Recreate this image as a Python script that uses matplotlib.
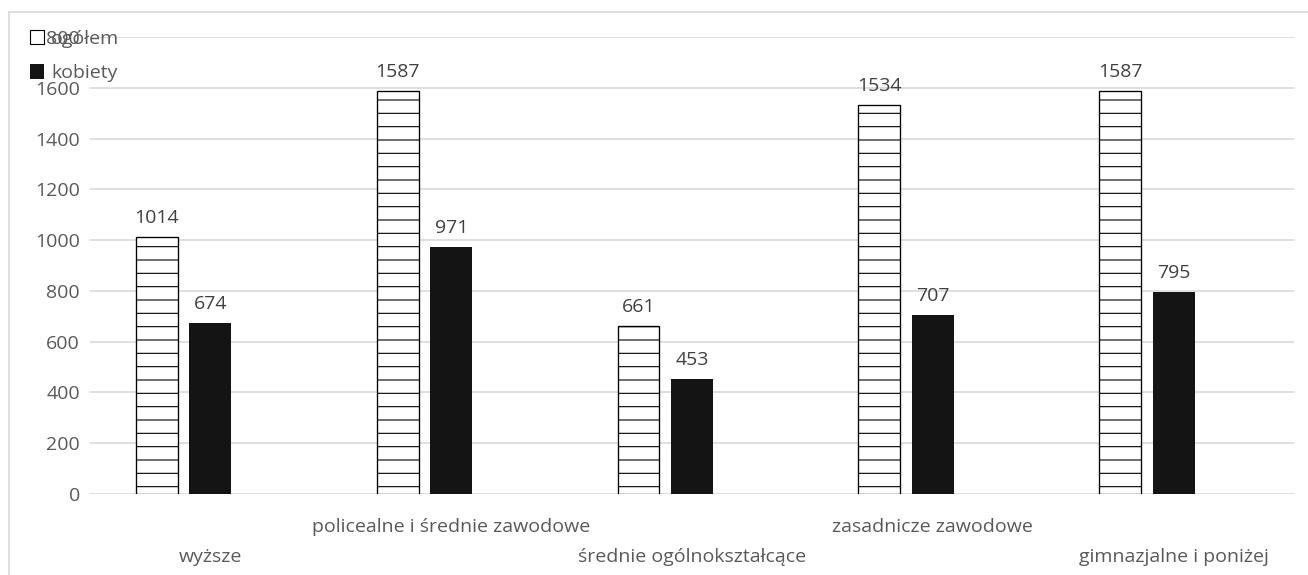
import numpy as np
import matplotlib.pyplot as plt
from matplotlib.patches import Rectangle, Patch

plt.rcParams['font.family'] = ['Open Sans', 'DejaVu Sans']
plt.rcParams['hatch.linewidth'] = 1.0

# dane
kategorie = ['wyższe', 'policealne i średnie zawodowe', 'średnie ogólnokształcące',
             'zasadnicze zawodowe', 'gimnazjalne i poniżej']
ogolem = [1014, 1587, 661, 1534, 1587]
kobiety = [674, 971, 453, 707, 795]
y_ticks = [0, 200, 400, 600, 800, 1000, 1200, 1400, 1600, 1800]

W, H, DPI = 1308, 575, 80
fs = 17.5
fig = plt.figure(figsize=(W / DPI, H / DPI), dpi=DPI)

# ramka wykresu
fig.patches.append(Rectangle((9 / W, -0.1), 1.2, 1.1 - 12 / H, transform=fig.transFigure,
                             fill=False, edgecolor='#d9d9d9', linewidth=1.5, zorder=0))

ax = fig.add_axes([90 / W, 81 / H, 1204 / W, 457 / H])

x = np.arange(len(kategorie))
bw = 0.174
b1 = ax.bar(x - 0.222, ogolem, bw, facecolor='white', edgecolor='black',
            hatch='-', linewidth=1.2, zorder=3)
b2 = ax.bar(x, kobiety, bw, color='#141414', zorder=3)

for bars in (b1, b2):
    for r in bars:
        ax.annotate(f'{int(r.get_height())}', (r.get_x() + r.get_width() / 2, r.get_height()),
                    xytext=(0, 9), textcoords='offset points', ha='center', va='bottom',
                    fontsize=fs, color='#404040')

ax.set_xlim(-0.5, 4.5)
ax.set_ylim(0, 1800)
ax.set_yticks(y_ticks)
ax.tick_params(axis='y', length=0, labelsize=fs, labelcolor='#595959', pad=9)
ax.tick_params(axis='x', length=0)
ax.set_xticks(x)
ax.set_xticklabels([])
# podpisy kategorii naprzemiennie w dwóch rzędach
for i, k in enumerate(kategorie):
    dy = 33 if i % 2 else 63
    ax.text(i, -dy / 457, k, transform=ax.get_xaxis_transform(),
            ha='center', va='center', fontsize=fs, color='#595959')

ax.grid(axis='y', color='#d9d9d9', linewidth=1.5, zorder=0)
for s in ax.spines.values():
    s.set_visible(False)

handles = [Patch(facecolor='white', edgecolor='black', linewidth=1.0),
           Patch(facecolor='#141414')]
fig.legend(handles, ['ogółem', 'kobiety'], loc='upper left',
           bbox_to_anchor=(20 / W, 1 - 20 / H), frameon=False, fontsize=fs,
           labelcolor='#595959', handlelength=0.75, handleheight=0.75,
           handletextpad=0.35, labelspacing=0.85, borderpad=0)

fig.savefig('out.png', dpi=DPI)
